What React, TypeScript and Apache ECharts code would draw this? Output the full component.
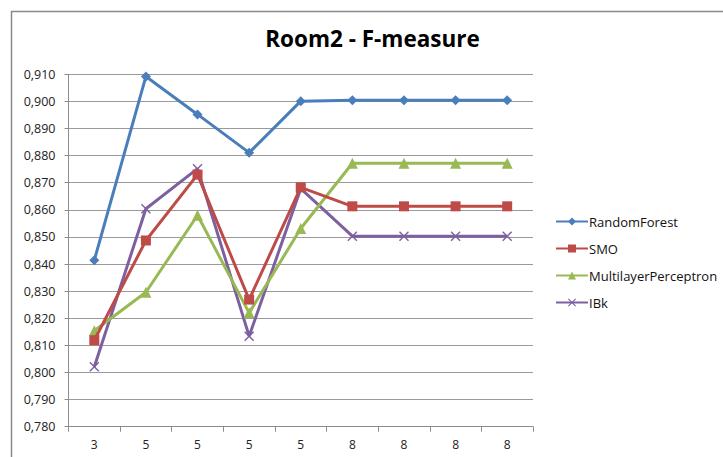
import React, { useEffect, useRef } from "react";
import * as echarts from "echarts";

// Category labels along the x axis (repeated values are intentional)
const xLabels = ["3", "5", "5", "5", "5", "8", "8", "8", "8"];

const seriesNames = ["RandomForest", "SMO", "MultilayerPerceptron", "IBk"];

const randomForest = [0.8414, 0.9092, 0.8952, 0.8811, 0.9001, 0.9004, 0.9004, 0.9004, 0.9004];
const smo = [0.8119, 0.8487, 0.873, 0.8269, 0.8683, 0.8613, 0.8613, 0.8613, 0.8613];
const mlp = [0.8154, 0.8296, 0.858, 0.822, 0.8531, 0.8772, 0.8772, 0.8772, 0.8772];
const ibk = [0.8021, 0.8604, 0.8752, 0.8134, 0.8678, 0.8503, 0.8503, 0.8503, 0.8503];

const yTicks = { min: 0.78, max: 0.91, step: 0.01 };

const colors = ["#4A7EBB", "#BE4B48", "#98B954", "#7D60A0"];

const crossSymbol =
  "path://M0,1L1,0L5,4L9,0L10,1L6,5L10,9L9,10L5,6L1,10L0,9L4,5Z";

const labelFont = "'Open Sans', Lato, sans-serif";

export default function App() {
  const ref = useRef<HTMLDivElement>(null);

  useEffect(() => {
    if (!ref.current) return;
    const chart = echarts.init(ref.current, null, { renderer: "svg" });

    const values = [randomForest, smo, mlp, ibk];
    const symbols = ["diamond", "rect", "triangle", crossSymbol];
    const sizes = [10, 10, 11, 10];

    chart.setOption({
      animation: false,
      backgroundColor: "#fff",
      title: {
        text: "Room2 - F-measure",
        left: 367.5,
        textAlign: "center",
        top: 22,
        textStyle: {
          fontFamily: labelFont,
          fontSize: 22.5,
          fontWeight: "bold",
          color: "#000",
        },
      },
      graphic: [
        {
          type: "rect",
          shape: { x: 11.5, y: 11.5, width: 730, height: 460 },
          style: { fill: "none", stroke: "#8a8a8a", lineWidth: 1.5 },
          silent: true,
        },
      ],
      legend: {
        orient: "vertical",
        left: 550,
        top: 210,
        itemGap: 14,
        itemWidth: 32,
        itemHeight: 10,
        data: seriesNames,
        textStyle: {
          fontFamily: labelFont,
          fontSize: 13,
          color: "#111",
          padding: [0, 0, 0, -4],
        },
      },
      grid: { left: 68.5, right: 190, top: 74.3, bottom: 30.3 },
      xAxis: {
        type: "category",
        data: xLabels.map((_, i) => String(i)),
        boundaryGap: true,
        axisLine: { lineStyle: { color: "#8c8c8c", width: 1 } },
        axisTick: { show: true, length: 5, lineStyle: { color: "#8c8c8c" } },
        axisLabel: {
          formatter: (_v: string, i: number) => xLabels[i],
          fontFamily: labelFont,
          fontSize: 12,
          color: "#222",
          margin: 12,
        },
        splitLine: { show: false },
      },
      yAxis: {
        type: "value",
        min: yTicks.min,
        max: yTicks.max,
        interval: yTicks.step,
        axisLine: { show: true, lineStyle: { color: "#8c8c8c", width: 1 } },
        axisTick: { show: true, length: 4, lineStyle: { color: "#8c8c8c" } },
        axisLabel: {
          formatter: (v: number) => v.toFixed(3).replace(".", ","),
          fontFamily: labelFont,
          fontSize: 12.5,
          color: "#222",
          margin: 13,
        },
        splitLine: { show: true, lineStyle: { color: "#9a9a9a", width: 1 } },
      },
      series: seriesNames.map((name, k) => ({
        name,
        type: "line",
        data: values[k],
        symbol: symbols[k],
        symbolSize: sizes[k],
        showSymbol: true,
        lineStyle: { color: colors[k], width: 3 },
        itemStyle: { color: colors[k] },
        emphasis: { disabled: true },
        z: 10 - k,
      })),
    });

    return () => chart.dispose();
  }, []);

  return (
    <div
      ref={ref}
      style={{ position: "fixed", left: 0, top: 0, width: 723, height: 457 }}
    />
  );
}
